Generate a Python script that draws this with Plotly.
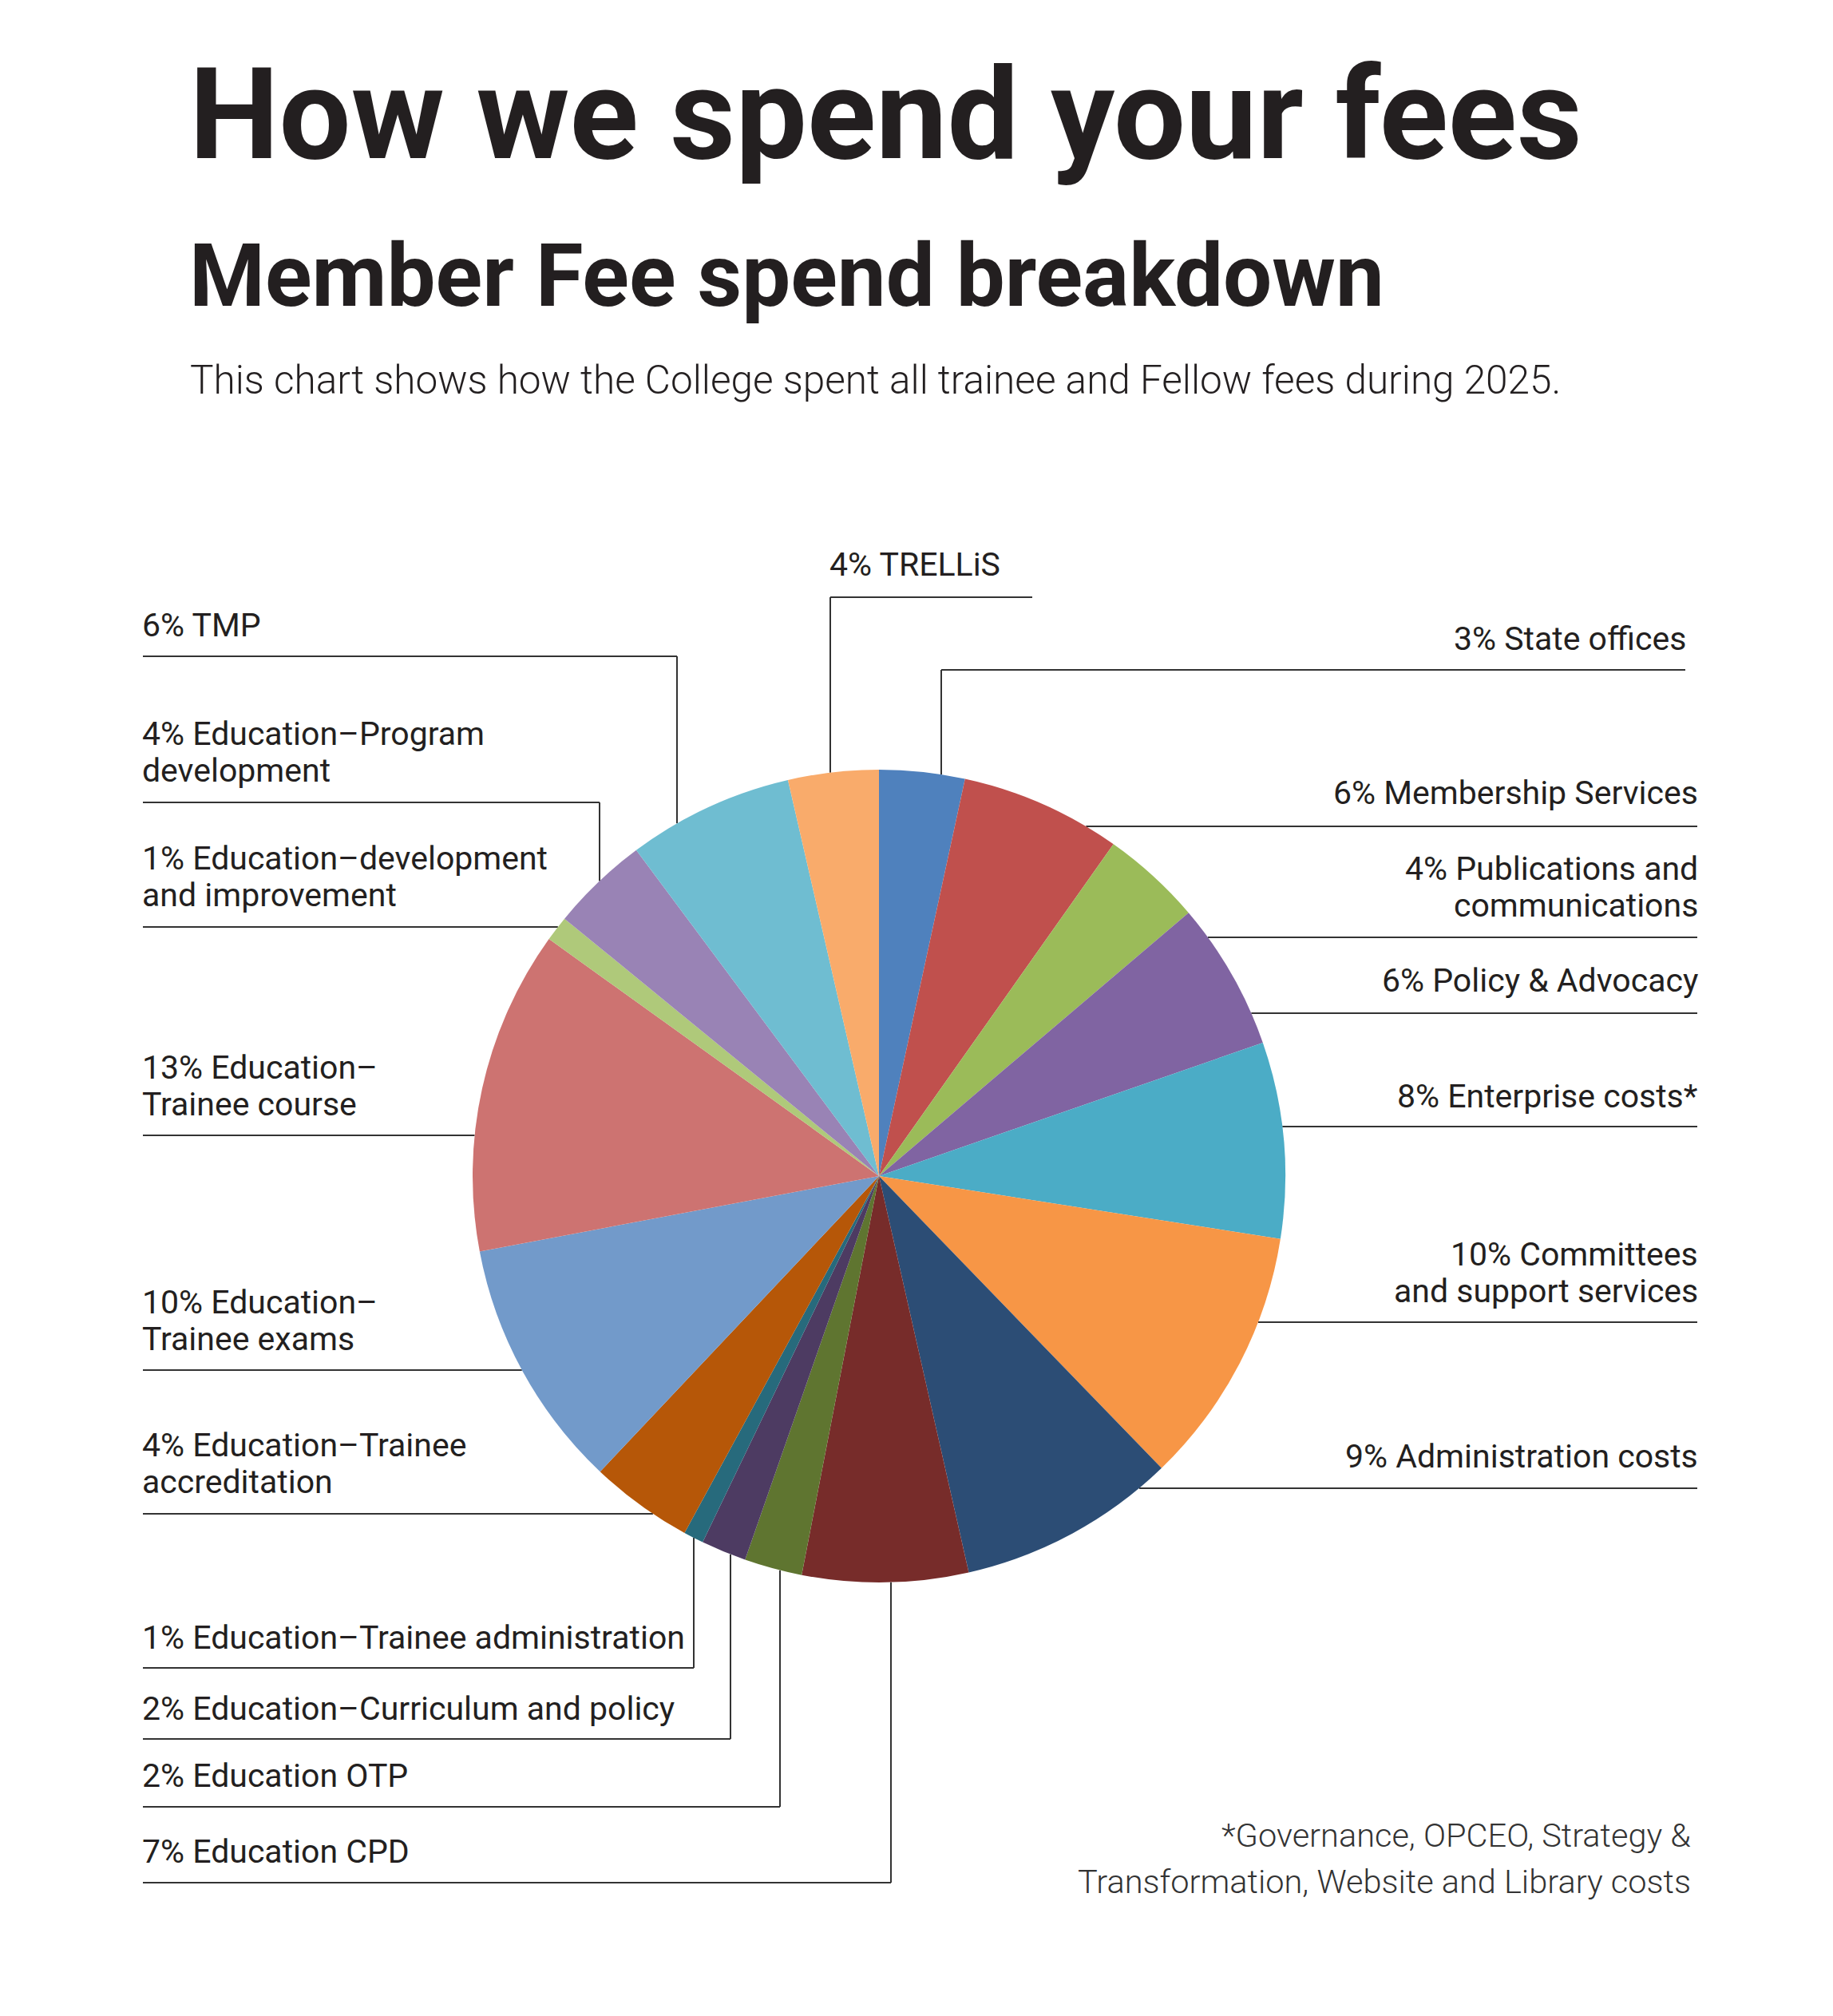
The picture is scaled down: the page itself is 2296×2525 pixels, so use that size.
import math
import plotly.graph_objects as go

# ---------------- data ----------------
categories = [
    "State offices", "Membership Services", "Publications and communications",
    "Policy & Advocacy", "Enterprise costs*", "Committees and support services",
    "Administration costs", "Education CPD", "Education OTP",
    "Education–Curriculum and policy", "Education–Trainee administration",
    "Education–Trainee accreditation", "Education–Trainee exams",
    "Education–Trainee course", "Education–development and improvement",
    "Education–Program development", "TMP", "TRELLiS",
]
values = [3.4, 6.4, 4.0, 5.9, 7.8, 10.3, 8.7, 6.6, 2.3, 1.8, 0.8, 4.1, 10.0, 12.9, 1.0, 3.9, 6.6, 3.6]
pct_labels = [3, 6, 4, 6, 8, 10, 9, 7, 2, 2, 1, 4, 10, 13, 1, 4, 6, 4]
label_lines = [
    ["State offices"],
    ["Membership Services"],
    ["Publications and", "communications"],
    ["Policy & Advocacy"],
    ["Enterprise costs*"],
    ["Committees", "and support services"],
    ["Administration costs"],
    ["Education CPD"],
    ["Education OTP"],
    ["Education–Curriculum and policy"],
    ["Education–Trainee administration"],
    ["Education–Trainee", "accreditation"],
    ["Education–", "Trainee exams"],
    ["Education–", "Trainee course"],
    ["Education–development", "and improvement"],
    ["Education–Program", "development"],
    ["TMP"],
    ["TRELLiS"],
]
colors = [
    "#4F81BD", "#C0504D", "#9BBB59", "#8064A2", "#4BACC6", "#F79646",
    "#2C4D75", "#772C2A", "#5F7530", "#4D3B62", "#276A7C", "#B65708",
    "#729ACA", "#CD7371", "#AFC97A", "#9983B5", "#6FBDD1", "#F9AB6B",
]

title_text = "How we spend your fees"
subtitle_text = "Member Fee spend breakdown"
desc_text = "This chart shows how the College spent all trainee and Fellow fees during 2025."
foot_lines = ["*Governance, OPCEO, Strategy &", "Transformation, Website and Library costs"]

# ---------------- layout constants (pixels) ----------------
W, H = 2296, 2525
CX, CY, R = 1101, 1473, 509
FS = 41          # label font size
LH = 46          # label line spacing
TXT = "#231F20"
LINE = "#333333"

# per label: text x, anchor, first baseline, leader y, horizontal segment (x0,x1 or None for circle), elbow x
LEFT_X, RIGHT_X = 177, 2128
specs = [
    (2113, "right", 815, 839, (1179, 2111), 1179),
    (RIGHT_X, "right", 1008, 1035, None, None),
    (RIGHT_X, "right", 1103, 1174, None, None),
    (RIGHT_X, "right", 1243, 1269, None, None),
    (RIGHT_X, "right", 1388, 1411, None, None),
    (RIGHT_X, "right", 1586, 1656, None, None),
    (RIGHT_X, "right", 1839, 1864, None, None),
    (LEFT_X, "left", 2334, 2358, (179, 1116), 1116),
    (LEFT_X, "left", 2239, 2263, (179, 977), 977),
    (LEFT_X, "left", 2155, 2178, (179, 915), 915),
    (LEFT_X, "left", 2066, 2089, (179, 869), 869),
    (LEFT_X, "left", 1825, 1896, None, None),
    (LEFT_X, "left", 1646, 1716, None, None),
    (LEFT_X, "left", 1352, 1422, None, None),
    (LEFT_X, "left", 1090, 1161, None, None),
    (LEFT_X, "left", 934, 1005, (179, 751), 751),
    (LEFT_X, "left", 798, 822, (179, 848), 848),
    (1038, "left", 722, 748, (1040, 1293), 1040),
]
LINE_LEFT, LINE_RIGHT = 179, 2126


def circle_x(y, side):
    d = math.sqrt(max(R * R - (y - CY) ** 2, 0))
    return CX - d if side == "left" else CX + d


def circle_y(x, above):
    d = math.sqrt(max(R * R - (x - CX) ** 2, 0))
    return CY - d if above else CY + d


fig = go.Figure()

fig.add_trace(go.Pie(
    labels=categories, values=values, sort=False, direction="clockwise",
    rotation=0, textinfo="none", hoverinfo="label+percent",
    marker=dict(colors=colors, line=dict(width=0)),
    showlegend=False,
    domain=dict(x=[(CX - R) / W, (CX + R) / W], y=[1 - (CY + R) / H, 1 - (CY - R) / H]),
))

# leader lines
lx, ly = [], []
for (tx, anchor, b, yl, hseg, elbow) in specs:
    if hseg is None:
        if anchor == "left":
            x0, x1 = LINE_LEFT, circle_x(yl, "left")
        else:
            x0, x1 = circle_x(yl, "right"), LINE_RIGHT
        lx += [x0, x1, None]
        ly += [yl, yl, None]
    else:
        x0, x1 = hseg
        lx += [x0, x1, None]
        ly += [yl, yl, None]
        cyv = circle_y(elbow, yl < CY)
        lx += [elbow, elbow, None]
        ly += [yl, cyv, None]

fig.add_trace(go.Scatter(x=lx, y=ly, mode="lines", line=dict(color=LINE, width=2),
                         hoverinfo="skip", showlegend=False))

annotations = []


def add_text(text, x, baseline, size, anchor="left", weight=400, color=TXT, family="Roboto"):
    annotations.append(dict(
        text=text, x=x, y=baseline + 0.244 * size, xref="x", yref="y",
        xanchor=anchor, yanchor="bottom", showarrow=False, borderpad=0,
        font=dict(family=family, size=size, color=color, weight=weight),
    ))


for i, (tx, anchor, b, yl, hseg, elbow) in enumerate(specs):
    lines = label_lines[i]
    for j, t in enumerate(lines):
        txt = f"{pct_labels[i]}% {t}" if j == 0 else t
        add_text(txt, tx, b + j * LH, FS, anchor)

add_text(title_text, 236, 199, 159.5, "left", 700)
add_text(subtitle_text, 236, 384, 108.5, "left", 700)
add_text(desc_text, 237, 494, 49.5, "left", 300)
for j, t in enumerate(foot_lines):
    add_text(t, 2119, 2314 + j * 58, 41.5, "right", 300, "#333333")

fig.update_layout(
    width=W, height=H, autosize=False,
    margin=dict(l=0, r=0, t=0, b=0),
    paper_bgcolor="white", plot_bgcolor="white",
    xaxis=dict(range=[0, W], visible=False, domain=[0, 1], fixedrange=True),
    yaxis=dict(range=[H, 0], visible=False, domain=[0, 1], fixedrange=True),
    annotations=annotations,
    font=dict(family="Roboto"),
)

fig.write_html("out.html", config={"displayModeBar": False},
               post_script="document.body.style.margin='0';")
